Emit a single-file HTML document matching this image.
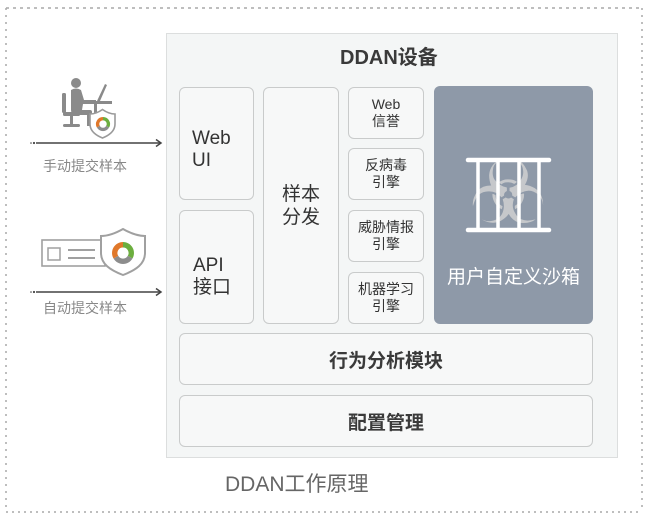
<!DOCTYPE html>
<html>
<head>
<meta charset="utf-8">
<style>
  html,body{margin:0;padding:0;background:#fff;}
  body{width:650px;height:518px;position:relative;overflow:hidden;
    font-family:"Liberation Sans","Noto Sans CJK SC",sans-serif;color:#333;}
  .abs{position:absolute;}
  .main{position:absolute;left:166px;top:33px;width:450px;height:423px;background:#f4f6f6;border:1px solid #dcdede;}
  .box{position:absolute;box-sizing:border-box;background:#f7f8f8;border:1px solid #c9cbcb;border-radius:6px;
    display:flex;align-items:center;justify-content:center;text-align:center;}
  .lbl{position:absolute;white-space:nowrap;}
</style>
</head>
<body>

<!-- dotted outer frame -->
<svg class="abs" style="left:0;top:0" width="650" height="518">
  <line x1="6" y1="8" x2="642" y2="8" stroke="#a8a8a8" stroke-width="1.5" stroke-dasharray="3 4"/>
  <line x1="6" y1="512" x2="642" y2="512" stroke="#a8a8a8" stroke-width="1.5" stroke-dasharray="2 4"/>
  <line x1="6" y1="8" x2="6" y2="512" stroke="#a8a8a8" stroke-width="1.5" stroke-dasharray="2 5"/>
  <line x1="642" y1="8" x2="642" y2="512" stroke="#a8a8a8" stroke-width="1.5" stroke-dasharray="2 5"/>
</svg>

<!-- main device box -->
<div class="main"></div>
<div class="lbl" style="left:340px;top:45px;font-size:20px;font-weight:bold;color:#3a3a3a;line-height:26px;">DDAN设备</div>

<!-- column 1 -->
<div class="box" style="left:179px;top:87px;width:75px;height:113px;"></div>
<div class="lbl" style="left:192px;top:128px;font-size:19px;line-height:22px;color:#333;">Web<br>UI</div>
<div class="box" style="left:179px;top:210px;width:75px;height:114px;"></div>
<div class="lbl" style="left:193px;top:255px;font-size:19px;line-height:22px;color:#333;">API<br>接口</div>

<!-- column 2 -->
<div class="box" style="left:263px;top:87px;width:76px;height:237px;font-size:19px;line-height:23px;">样本<br>分发</div>

<!-- column 3 -->
<div class="box" style="left:348px;top:87px;width:76px;height:52px;font-size:14px;line-height:17px;">Web<br>信誉</div>
<div class="box" style="left:348px;top:148px;width:76px;height:52px;font-size:14px;line-height:17px;">反病毒<br>引擎</div>
<div class="box" style="left:348px;top:210px;width:76px;height:52px;font-size:14px;line-height:17px;">威胁情报<br>引擎</div>
<div class="box" style="left:348px;top:272px;width:76px;height:52px;font-size:14px;line-height:17px;">机器学习<br>引擎</div>

<!-- sandbox -->
<div class="abs" style="left:434px;top:86px;width:159px;height:238px;background:#8e99a8;border-radius:6px;"></div>
<div class="lbl" style="left:434px;width:159px;text-align:center;top:266px;font-size:19px;line-height:24px;color:#fff;">用户自定义沙箱</div>
<div class="lbl" style="left:458px;top:148px;width:100px;text-align:center;font-family:'DejaVu Sans',sans-serif;font-size:88px;line-height:90px;color:#c6c8cb;">☣</div>
<svg class="abs" style="left:460px;top:152px" width="100" height="86">
  <g stroke="#ffffff" stroke-linecap="round" fill="none">
    <line x1="8" y1="8" x2="89" y2="8" stroke-width="4.5"/>
    <line x1="8" y1="78" x2="89" y2="78" stroke-width="4.5"/>
    <line x1="18" y1="8" x2="18" y2="78" stroke-width="3.5"/>
    <line x1="38" y1="8" x2="38" y2="78" stroke-width="3.5"/>
    <line x1="59" y1="8" x2="59" y2="78" stroke-width="3.5"/>
    <line x1="79" y1="8" x2="79" y2="78" stroke-width="3.5"/>
  </g>
</svg>

<!-- bottom rows -->
<div class="box" style="left:179px;top:333px;width:414px;height:52px;font-size:19px;font-weight:bold;color:#3a3a3a;">行为分析模块</div>
<div class="box" style="left:179px;top:395px;width:414px;height:52px;font-size:19px;font-weight:bold;color:#3a3a3a;">配置管理</div>

<!-- caption -->
<div class="lbl" style="left:225px;top:472px;font-size:21px;line-height:26px;color:#666;">DDAN工作原理</div>

<!-- left side -->
<svg class="abs" style="left:0;top:0" width="170" height="320">
  <!-- person icon -->
  <g fill="#8a8a8a">
    <circle cx="76" cy="83" r="5"/>
    <path d="M71,90 Q76,87 81,90 L84,100 L96,100 L96,104 L83,104 L82,110 L90,110 Q92,110 92,112 L92,126 L87,126 L87,115 L76,115 Q71,115 71,110 Z"/>
    <rect x="62" y="93" width="4" height="20" rx="1.5"/>
    <rect x="63" y="112" width="17" height="4" rx="1.5"/>
    <rect x="70" y="116" width="3" height="9"/>
    <rect x="63" y="124" width="17" height="3" rx="1.5"/>
    <rect x="83" y="101" width="29" height="3"/>
    <rect x="94" y="104" width="3" height="22"/>
    <path d="M97,101 L105,84 L107,85 L100,101 Z"/>
  </g>
  <!-- shield 1 -->
  <path d="M90,114 C95,114 99,112 102.5,109.5 C106,112 110,114 115,114 L115,124 C115,131 110,135 102.5,138 C95,135 90,131 90,124 Z" fill="#fff" stroke="#9a9a9a" stroke-width="1.6"/>
  <g transform="translate(103,124)">
    <path d="M0,-7 A7,7 0 0,1 6.1,3.5 L3.2,1.8 A3.6,3.6 0 0,0 0,-3.6 Z" fill="#6cae3f"/>
    <path d="M6.1,3.5 A7,7 0 0,1 -6.1,3.5 L-3.2,1.8 A3.6,3.6 0 0,0 3.2,1.8 Z" fill="#8d8d8d"/>
    <path d="M-6.1,3.5 A7,7 0 0,1 0,-7 L0,-3.6 A3.6,3.6 0 0,0 -3.2,1.8 Z" fill="#e0782a"/>
  </g>
  <!-- arrow 1 -->
  <circle cx="31" cy="143" r="0.8" fill="#444"/>
  <circle cx="34" cy="143" r="1.1" fill="#444"/>
  <line x1="36" y1="143" x2="160" y2="143" stroke="#444" stroke-width="1.5"/>
  <path d="M156,139.5 L161,143 L156,146.5" fill="none" stroke="#444" stroke-width="1.5"/>

  <!-- form icon -->
  <rect x="42" y="240" width="63" height="26" fill="#fff" stroke="#a0a0a0" stroke-width="1.6"/>
  <rect x="48" y="248" width="12" height="12" fill="none" stroke="#a0a0a0" stroke-width="1.5"/>
  <line x1="68" y1="250" x2="95" y2="250" stroke="#a0a0a0" stroke-width="2"/>
  <line x1="68" y1="258" x2="95" y2="258" stroke="#a0a0a0" stroke-width="2"/>
  <!-- shield 2 -->
  <path d="M101,236 C109,236 116,233 123,229 C130,233 137,236 145,236 L145,253 C145,264 136,270 123,275 C110,270 101,264 101,253 Z" fill="#fff" stroke="#a0a0a0" stroke-width="2"/>
  <g transform="translate(123,253)">
    <path d="M0,-11 A11,11 0 0,1 9.5,5.5 L4.8,2.8 A5.5,5.5 0 0,0 0,-5.5 Z" fill="#6cae3f"/>
    <path d="M9.5,5.5 A11,11 0 0,1 -9.5,5.5 L-4.8,2.8 A5.5,5.5 0 0,0 4.8,2.8 Z" fill="#8d8d8d"/>
    <path d="M-9.5,5.5 A11,11 0 0,1 0,-11 L0,-5.5 A5.5,5.5 0 0,0 -4.8,2.8 Z" fill="#e0782a"/>
  </g>
  <!-- arrow 2 -->
  <circle cx="31" cy="292" r="0.8" fill="#444"/>
  <circle cx="34" cy="292" r="1.1" fill="#444"/>
  <line x1="36" y1="292" x2="160" y2="292" stroke="#444" stroke-width="1.5"/>
  <path d="M156,288.5 L161,292 L156,295.5" fill="none" stroke="#444" stroke-width="1.5"/>
</svg>

<div class="lbl" style="left:43px;top:157px;font-size:14px;line-height:18px;color:#888;">手动提交样本</div>
<div class="lbl" style="left:43px;top:299px;font-size:14px;line-height:18px;color:#888;">自动提交样本</div>

</body>
</html>
